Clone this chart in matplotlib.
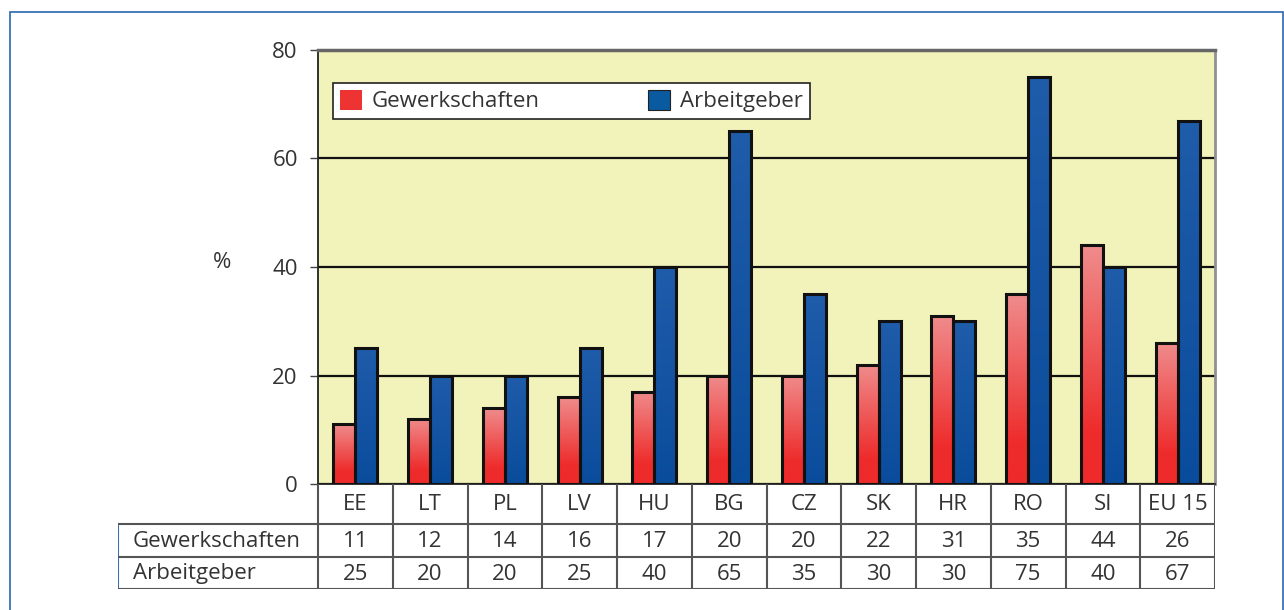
import numpy as np
import matplotlib
matplotlib.use('Agg')
import matplotlib.pyplot as plt
from matplotlib.colors import LinearSegmentedColormap
from matplotlib.patches import Rectangle, Patch

# data
countries = ['EE', 'LT', 'PL', 'LV', 'HU', 'BG', 'CZ', 'SK', 'HR', 'RO', 'SI', 'EU 15']
gewerkschaften = [11, 12, 14, 16, 17, 20, 20, 22, 31, 35, 44, 26]
arbeitgeber = [25, 20, 20, 25, 40, 65, 35, 30, 30, 75, 40, 67]
series_names = ['Gewerkschaften', 'Arbeitgeber']
yticks = [0, 20, 40, 60, 80]

plt.rcParams['font.family'] = ['Open Sans', 'DejaVu Sans']
FS = 16
TXT = '#333333'

W, H = 1284, 610
fig = plt.figure(figsize=(W / 100, H / 100), dpi=100)

# blue outer frame
fig.patches.append(Rectangle((10 / W, -0.05), (1283 - 10) / W, 1.05 - 12 / H,
                             transform=fig.transFigure, fill=False,
                             edgecolor='#2A66B0', lw=1.2))

# main chart area
ax = fig.add_axes([318 / W, 1 - 484 / H, 897 / W, 434 / H])
ax.set_facecolor('#F2F2BB')

red_cmap = LinearSegmentedColormap.from_list(
    'red', [(0, '#EE2A2A'), (0.22, '#EE2C2C'), (1, '#F08C8C')])
blue_cmap = LinearSegmentedColormap.from_list(
    'blue', [(0, '#0A4C9C'), (1, '#1F5CAA')])
grad = np.linspace(0, 1, 256).reshape(-1, 1)

x = np.arange(len(countries))
bw = 0.295
for vals, off, cmap in [(gewerkschaften, -bw / 2, red_cmap), (arbeitgeber, bw / 2, blue_cmap)]:
    bars = ax.bar(x + off, vals, bw, facecolor='none', edgecolor='#111111',
                  linewidth=2.2, zorder=4)
    for b in bars:
        x0, w, h = b.get_x(), b.get_width(), b.get_height()
        im = ax.imshow(grad, cmap=cmap, origin='lower', aspect='auto',
                       extent=[x0, x0 + w, 0, h], zorder=3, interpolation='bilinear')
        im.set_clip_path(b)

ax.set_xlim(-0.5, len(countries) - 0.5)
ax.set_ylim(0, 80)
ax.set_yticks(yticks)
ax.set_yticklabels([str(t) for t in yticks], fontsize=FS, color=TXT)
ax.set_xticks([])
ax.tick_params(axis='y', length=6, width=1, color='#444444', pad=8.5)
ax.grid(axis='y', color='#111111', linewidth=1.6)
ax.set_axisbelow(True)
ax.spines['left'].set_color('#222222')
ax.spines['left'].set_linewidth(1.3)
ax.spines['bottom'].set_color('#222222')
ax.spines['bottom'].set_linewidth(1.3)
ax.spines['top'].set_color('#666666')
ax.spines['top'].set_linewidth(2.5)
ax.spines['right'].set_color('#909090')
ax.spines['right'].set_linewidth(2)

fig.text(222 / W, 1 - 263 / H, '%', fontsize=FS, color=TXT, ha='center', va='center')

handles = [Patch(facecolor='#EE3333', edgecolor='none'),
           Patch(facecolor='#0A5AA0', edgecolor='#222222', linewidth=0.8)]
leg = ax.legend(handles, series_names, ncol=2, mode='expand',
                bbox_to_anchor=(15 / 897, (484 - 119) / 434, 477 / 897, 39 / 434),
                loc='lower left', borderaxespad=0, fontsize=FS, handlelength=1.0,
                handleheight=1.0, handletextpad=0.45, fancybox=False,
                framealpha=1, facecolor='white', edgecolor='#222222',
                labelcolor=TXT, borderpad=0.3)
leg.get_frame().set_linewidth(1.2)
leg.set_zorder(6)

# data table below the chart
lab_w = 200 / 74.75
tab = fig.add_axes([118 / W, 1 - 589 / H, (1215 - 118) / W, 105 / H])
tab.set_xlim(-0.5 - lab_w, len(countries) - 0.5)
tab.set_ylim(589, 484)
tab.axis('off')
rows = [484, 524, 557, 589]
xl = -0.5 - lab_w
lc = '#555555'
for k in range(len(countries) + 1):
    tab.plot([k - 0.5, k - 0.5], [rows[0], rows[3]], color=lc, lw=1.5)
tab.plot([xl, xl], [rows[1], rows[3]], color='#3A6FB0', lw=1.5)
for r in rows[1:]:
    tab.plot([xl, len(countries) - 0.5], [r, r], color=lc, lw=1.5)

for i, c in enumerate(countries):
    tab.text(i, (rows[0] + rows[1]) / 2, c, ha='center', va='center', fontsize=FS, color=TXT)
    tab.text(i, (rows[1] + rows[2]) / 2 + 1, str(gewerkschaften[i]), ha='center', va='center', fontsize=FS, color=TXT)
    tab.text(i, (rows[2] + rows[3]) / 2 + 1, str(arbeitgeber[i]), ha='center', va='center', fontsize=FS, color=TXT)
for j, name in enumerate(series_names):
    tab.annotate(name, (xl, (rows[j + 1] + rows[j + 2]) / 2 + 1), xytext=(10.5, 0),
                 textcoords='offset points', ha='left', va='center', fontsize=FS, color=TXT)

fig.savefig('out.png', dpi=100)
